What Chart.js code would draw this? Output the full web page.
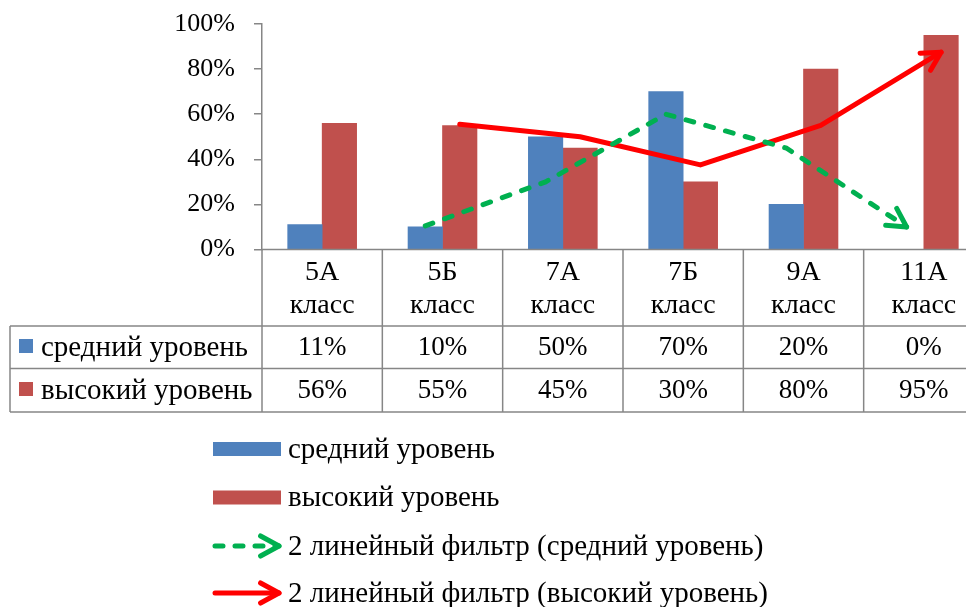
<!DOCTYPE html>
<html lang="ru">
<head>
    <meta charset="UTF-8">
    <title>Уровни по классам</title>
    <script src="https://cdn.jsdelivr.net/npm/chart.js"></script>
    <style>
        * { margin: 0; padding: 0; box-sizing: border-box; }
        body { background: #fff; width: 966px; height: 607px; overflow: hidden; }
        canvas { display: block; }
    </style>
</head>
<body>
    <canvas id="levels-chart" width="984" height="607"></canvas>

    <script>
        // data
        var categories = [['5А', 'класс'], ['5Б', 'класс'], ['7А', 'класс'], ['7Б', 'класс'], ['9А', 'класс'], ['11А', 'класс']];
        var midLevel = [11, 10, 50, 70, 20, 0];
        var highLevel = [56, 55, 45, 30, 80, 95];
        var midFilter = [null, 10.5, 30, 60, 45, 10];     // 2-point moving average, as drawn
        var highFilter = [null, 55.5, 50, 37.5, 55, 87.5];
        var yTicks = [0, 20, 40, 60, 80, 100];
        var seriesNames = ['средний уровень', 'высокий уровень',
            '2 линейный фильтр (средний уровень)', '2 линейный фильтр (высокий уровень)'];

        var SERIF = '"Liberation Serif", "Times New Roman", serif';
        var GRAY = '#868686';
        var BLUE = '#4F81BD', RED = '#C0504D', GREEN = '#00B050', BRIGHT_RED = '#FF0000';
        var GROUP = 0.573;   // share of a category taken by the two bars

        // bars and trend lines share one linear x axis (category i spans i..i+1),
        // lines sit on the centres of their own bars, like Excel trendlines
        function toPoints(vals, side) {
            var off = side * GROUP / 4;
            var pts = [];
            vals.forEach(function (v, i) {
                if (v !== null) pts.push({ x: i + 0.5 + off, y: v });
            });
            return pts;
        }

        function drawArrow(ctx, from, to, color) {
            var ang = Math.atan2(to.y - from.y, to.x - from.x);
            var len = 21, spread = 0.5;
            ctx.save();
            ctx.strokeStyle = color;
            ctx.lineWidth = 5;
            ctx.lineCap = 'round';
            ctx.lineJoin = 'round';
            ctx.setLineDash([]);
            ctx.beginPath();
            ctx.moveTo(to.x - len * Math.cos(ang - spread), to.y - len * Math.sin(ang - spread));
            ctx.lineTo(to.x, to.y);
            ctx.lineTo(to.x - len * Math.cos(ang + spread), to.y - len * Math.sin(ang + spread));
            ctx.stroke();
            ctx.restore();
        }

        var arrowPlugin = {
            id: 'arrows',
            afterDatasetsDraw: function (chart) {
                [2, 3].forEach(function (i) {
                    var pts = chart.getDatasetMeta(i).data;
                    var a = pts[pts.length - 2], b = pts[pts.length - 1];
                    drawArrow(chart.ctx, a, b, chart.data.datasets[i].borderColor);
                });
            }
        };

        var tablePlugin = {
            id: 'dataTable',
            afterDraw: function (chart) {
                var ctx = chart.ctx;
                var area = chart.chartArea;
                var xs = chart.scales.x;
                var n = categories.length;
                var top = area.bottom, r1 = 326, r2 = 368.5, r3 = 412;
                var left = 10;

                ctx.save();
                ctx.strokeStyle = GRAY;
                ctx.lineWidth = 1.5;
                ctx.beginPath();
                ctx.moveTo(area.left, top); ctx.lineTo(area.right, top);
                [r1, r2, r3].forEach(function (y) { ctx.moveTo(left, y); ctx.lineTo(area.right, y); });
                ctx.moveTo(left, r1); ctx.lineTo(left, r3);
                for (var i = 0; i <= n; i++) {
                    var x = xs.getPixelForValue(i);
                    ctx.moveTo(x, top); ctx.lineTo(x, r3);
                }
                ctx.stroke();

                ctx.fillStyle = '#000';
                ctx.textAlign = 'center';
                ctx.textBaseline = 'middle';
                categories.forEach(function (lab, i) {
                    var cx = xs.getPixelForValue(i + 0.5);
                    ctx.font = '28px ' + SERIF;
                    ctx.fillText(lab[0], cx, top + 23);
                    ctx.fillText(lab[1], cx, top + 56);
                    ctx.font = '27px ' + SERIF;
                    ctx.fillText(midLevel[i] + '%', cx, (r1 + r2) / 2 + 1);
                    ctx.fillText(highLevel[i] + '%', cx, (r2 + r3) / 2 + 1);
                });

                // row headers
                ctx.textAlign = 'left';
                ctx.fillStyle = BLUE; ctx.fillRect(19, 339, 14, 14);
                ctx.fillStyle = RED; ctx.fillRect(19, 382, 14, 14);
                ctx.fillStyle = '#000';
                ctx.font = '29px ' + SERIF;
                ctx.fillText(seriesNames[0], 41, (r1 + r2) / 2 + 1);
                ctx.fillText(seriesNames[1], 41, (r2 + r3) / 2 + 1);

                // legend
                var lx = 213, tx = 288;
                var ys = [449, 497.5, 546, 593];
                ctx.fillStyle = BLUE; ctx.fillRect(lx, ys[0] - 7, 68, 14);
                ctx.fillStyle = RED; ctx.fillRect(lx, ys[1] - 7, 68, 14);

                ctx.lineWidth = 5;
                ctx.lineCap = 'round';
                ctx.strokeStyle = GREEN;
                ctx.setLineDash([8, 12]);
                ctx.beginPath(); ctx.moveTo(lx + 2, ys[2]); ctx.lineTo(lx + 66, ys[2]); ctx.stroke();
                ctx.setLineDash([]);
                ctx.strokeStyle = BRIGHT_RED;
                ctx.beginPath(); ctx.moveTo(lx + 2, ys[3]); ctx.lineTo(lx + 66, ys[3]); ctx.stroke();
                drawArrow(ctx, { x: lx, y: ys[2] }, { x: lx + 66, y: ys[2] }, GREEN);
                drawArrow(ctx, { x: lx, y: ys[3] }, { x: lx + 66, y: ys[3] }, BRIGHT_RED);

                ctx.fillStyle = '#000';
                ys.forEach(function (y, i) { ctx.fillText(seriesNames[i], tx, y + 1); });
                ctx.restore();
            }
        };

        var ctx = document.getElementById('levels-chart').getContext('2d');
        var chart = new Chart(ctx, {
            data: {
                datasets: [
                    { type: 'bar', label: seriesNames[0], data: toPoints(midLevel, -1), backgroundColor: BLUE,
                      grouped: false, categoryPercentage: 1, barPercentage: 1, order: 2 },
                    { type: 'bar', label: seriesNames[1], data: toPoints(highLevel, 1), backgroundColor: RED,
                      grouped: false, categoryPercentage: 1, barPercentage: 1, order: 2 },
                    { type: 'line', label: seriesNames[2], data: toPoints(midFilter, -1),
                      borderColor: GREEN, borderWidth: 5, borderDash: [8, 12.5], borderCapStyle: 'round',
                      pointRadius: 0, tension: 0, order: 1 },
                    { type: 'line', label: seriesNames[3], data: toPoints(highFilter, 1),
                      borderColor: BRIGHT_RED, borderWidth: 5, borderCapStyle: 'round', borderJoinStyle: 'round',
                      pointRadius: 0, tension: 0, order: 1 }
                ]
            },
            options: {
                responsive: false,
                animation: false,
                layout: { padding: { top: 24, bottom: 357.5, left: 0, right: 0 } },
                plugins: { legend: { display: false }, tooltip: { enabled: false } },
                scales: {
                    x: { type: 'linear', display: false, min: 0, max: categories.length, offset: false },
                    y: {
                        min: 0, max: 100,
                        afterBuildTicks: function (scale) {
                            scale.ticks = yTicks.map(function (v) { return { value: v }; });
                        },
                        afterFit: function (scale) {
                            scale.width = 262;
                            scale.paddingTop = 0;
                            scale.paddingBottom = 0;
                        },
                        ticks: {
                            padding: 19,
                            color: '#000',
                            font: { family: SERIF, size: 26 },
                            callback: function (v) { return v + '%'; }
                        },
                        grid: { drawOnChartArea: false, tickLength: 8, color: GRAY, lineWidth: 1.5 },
                        border: { color: GRAY, width: 1.5 }
                    }
                }
            },
            plugins: [arrowPlugin, tablePlugin]
        });
    </script>
</body>
</html>
